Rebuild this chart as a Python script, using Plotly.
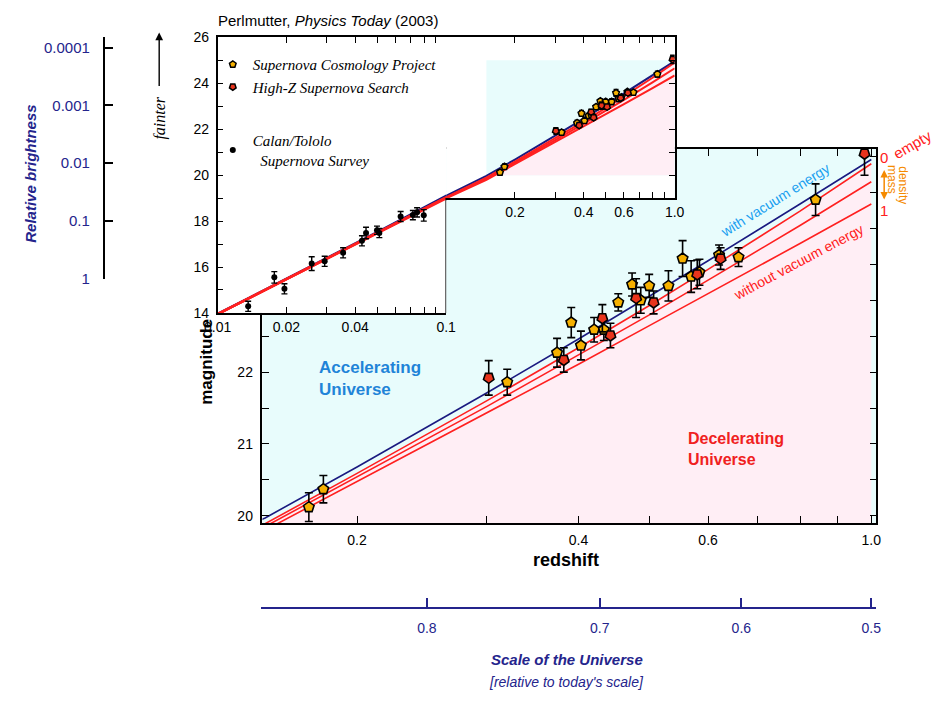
import plotly.graph_objects as go

# ---------------- data ----------------
MODEL_Z = [0.01, 0.02, 0.05, 0.1, 0.15, 0.2, 0.3, 0.4, 0.5, 0.6, 0.8, 1.0]
MAG_VACUUM = [13.96, 15.48, 17.52, 19.10, 19.97, 20.68, 21.71, 22.46, 23.06, 23.55, 24.34, 24.96]
MAG_EMPTY = [13.95, 15.47, 17.49, 19.04, 19.89, 20.59, 21.60, 22.34, 22.93, 23.43, 24.24, 24.90]
MAG_MID = [13.95, 15.47, 17.48, 19.02, 19.85, 20.54, 21.52, 22.24, 22.80, 23.28, 24.04, 24.65]
MAG_DENSE = [13.95, 15.46, 17.46, 18.99, 19.80, 20.48, 21.43, 22.11, 22.65, 23.09, 23.79, 24.34]

SCP_Z = [0.172, 0.180, 0.320, 0.374, 0.391, 0.403, 0.420, 0.433, 0.453, 0.473,
         0.486, 0.499, 0.530, 0.554, 0.569, 0.584, 0.621, 0.660, 0.840]
SCP_MAG = [20.12, 20.37, 21.86, 22.27, 22.69, 22.37, 22.59, 22.59, 22.97, 23.22,
           23.00, 23.20, 23.20, 23.58, 23.33, 23.39, 23.63, 23.60, 24.40]
SCP_ERR = [0.20, 0.19, 0.18, 0.20, 0.21, 0.20, 0.17, 0.15, 0.12, 0.16,
           0.18, 0.16, 0.21, 0.25, 0.22, 0.18, 0.14, 0.13, 0.22]

HZ_Z = [0.302, 0.382, 0.431, 0.442, 0.479, 0.506, 0.580, 0.624, 0.979]
HZ_MAG = [21.92, 22.17, 22.75, 22.51, 23.03, 22.97, 23.36, 23.58, 25.04]
HZ_ERR = [0.24, 0.17, 0.19, 0.17, 0.27, 0.16, 0.20, 0.15, 0.30]

CT_Z = [0.0136, 0.0177, 0.0196, 0.0258, 0.0294, 0.0354, 0.0428, 0.0446, 0.0498,
        0.0510, 0.0632, 0.0715, 0.0746, 0.0798, 0.103]
CT_MAG = [14.29, 15.55, 15.05, 16.15, 16.25, 16.62, 17.14, 17.48, 17.60,
          17.48, 18.20, 18.26, 18.38, 18.25, 19.10]
CT_ERR = [0.22, 0.25, 0.22, 0.30, 0.22, 0.22, 0.22, 0.25, 0.18,
          0.20, 0.22, 0.20, 0.20, 0.25, 0.20]

SHADE_Z = [0.15, 1.0]
SHADE_MAG = [20, 25]

MAIN_X_TICKS = [0.2, 0.3, 0.4, 0.5, 0.6, 0.7, 0.8, 0.9, 1.0]
MAIN_X_TEXT = ['0.2', '', '0.4', '', '0.6', '', '', '', '1.0']
MAIN_Y_TICKS = [20, 20.5, 21, 21.5, 22, 22.5, 23, 23.5, 24, 24.5, 25]
MAIN_Y_TEXT = ['20', '', '21', '', '22', '', '23', '', '24', '', '25']
INL_X_TICKS = [0.01, 0.02, 0.03, 0.04, 0.05, 0.06, 0.07, 0.08, 0.09, 0.1]
INL_X_TEXT = ['0.01', '0.02', '', '0.04', '', '', '', '', '', '0.1']
IN_Y_TICKS = [14, 15, 16, 17, 18, 19, 20, 21, 22, 23, 24, 25, 26]
IN_Y_TEXT = ['14', '', '16', '', '18', '', '20', '', '22', '', '24', '', '26']
INR_X_TICKS = [0.2, 0.3, 0.4, 0.5, 0.6, 0.7, 0.8, 0.9, 1.0]
INR_X_TEXT = ['0.2', '', '0.4', '', '0.6', '', '', '', '1.0']
BRIGHT_TICKS = [1, 0.1, 0.01, 0.001, 0.0001]
BRIGHT_TEXT = ['1', '0.1', '0.01', '0.001', '0.0001']
SCALE_TICK_Z = [0.149, 0.25, 0.4286, 0.6667, 1.0]
SCALE_TICK_TEXT = ['', '0.8', '0.7', '0.6', '0.5']

# ---------------- style ----------------
W, H = 939, 710
def fx(px): return px / W
def fy(px): return 1 - px / H

CYAN = '#E8FCFC'
PINK = '#FFEEF5'
NAVY = '#1A1A80'
REDL = '#FF2020'
ORANGE = '#F5B000'
REDM = '#E8341C'
DKBLUE = '#24248C'
SANS = 'Liberation Sans, Arial, sans-serif'
SERIF = 'Liberation Serif, Times New Roman, serif'

fig = go.Figure()

# ---- main panel ----
fig.add_trace(go.Scatter(x=MODEL_Z, y=MAG_EMPTY, mode='lines', line=dict(width=0),
                         fill='tozeroy', fillcolor=PINK, hoverinfo='skip', showlegend=False,
                         xaxis='x', yaxis='y'))
for ys, col in [(MAG_VACUUM, NAVY), (MAG_EMPTY, REDL), (MAG_MID, REDL), (MAG_DENSE, REDL)]:
    fig.add_trace(go.Scatter(x=MODEL_Z, y=ys, mode='lines', line=dict(color=col, width=1.6),
                             hoverinfo='skip', showlegend=False, xaxis='x', yaxis='y'))
eb_main = dict(type='data', thickness=1.6, width=4, color='black')
fig.add_trace(go.Scatter(x=SCP_Z, y=SCP_MAG, mode='markers',
                         error_y=dict(array=SCP_ERR, **eb_main),
                         marker=dict(symbol='pentagon', size=11, color=ORANGE,
                                     line=dict(color='black', width=1.6)),
                         showlegend=False, xaxis='x', yaxis='y'))
fig.add_trace(go.Scatter(x=HZ_Z, y=HZ_MAG, mode='markers',
                         error_y=dict(array=HZ_ERR, **eb_main),
                         marker=dict(symbol='pentagon', angle=180, size=11, color=REDM,
                                     line=dict(color='black', width=1.6)),
                         showlegend=False, xaxis='x', yaxis='y'))

# ---- inset, left part (nearby supernovae): model lines ----
for ys, col in [(MAG_VACUUM, NAVY), (MAG_EMPTY, REDL), (MAG_MID, REDL), (MAG_DENSE, REDL)]:
    fig.add_trace(go.Scatter(x=MODEL_Z, y=ys, mode='lines', line=dict(color=col, width=2.4),
                             hoverinfo='skip', showlegend=False, xaxis='x2', yaxis='y2'))

# ---- inset, right part ----
shade_z = [z for z in MODEL_Z if SHADE_Z[0] <= z <= SHADE_Z[1]]
shade_empty = [m for z, m in zip(MODEL_Z, MAG_EMPTY) if SHADE_Z[0] <= z <= SHADE_Z[1]]
fig.add_trace(go.Scatter(x=shade_z, y=[SHADE_MAG[0]] * len(shade_z), mode='lines',
                         line=dict(width=0), hoverinfo='skip', showlegend=False,
                         xaxis='x3', yaxis='y3'))
fig.add_trace(go.Scatter(x=shade_z, y=shade_empty, mode='lines', line=dict(width=0),
                         fill='tonexty', fillcolor=PINK, hoverinfo='skip', showlegend=False,
                         xaxis='x3', yaxis='y3'))
for ys, col in [(MAG_VACUUM, NAVY), (MAG_EMPTY, REDL), (MAG_MID, REDL), (MAG_DENSE, REDL)]:
    fig.add_trace(go.Scatter(x=MODEL_Z, y=ys, mode='lines', line=dict(color=col, width=2.0),
                             hoverinfo='skip', showlegend=False, xaxis='x3', yaxis='y3'))
eb_in = dict(type='data', thickness=1.3, width=2.5, color='black')
fig.add_trace(go.Scatter(x=SCP_Z, y=SCP_MAG, mode='markers', name='Supernova Cosmology Project',
                         legendgroup='g1',
                         error_y=dict(array=[e * 0.6 for e in SCP_ERR], **eb_in),
                         marker=dict(symbol='pentagon', size=7, color=ORANGE,
                                     line=dict(color='black', width=1.5)),
                         xaxis='x3', yaxis='y3'))
fig.add_trace(go.Scatter(x=HZ_Z, y=HZ_MAG, mode='markers', name='High-Z Supernova Search',
                         legendgroup='g1',
                         error_y=dict(array=[e * 0.6 for e in HZ_ERR], **eb_in),
                         marker=dict(symbol='pentagon', angle=180, size=7, color=REDM,
                                     line=dict(color='black', width=1.5)),
                         xaxis='x3', yaxis='y3'))

# ---- inset, left part: Calan/Tololo data ----
fig.add_trace(go.Scatter(x=CT_Z, y=CT_MAG, mode='markers', name='Calan/Tololo<br>  Supernova Survey',
                         legendgroup='g2',
                         error_y=dict(type='data', array=CT_ERR, thickness=1.4, width=3, color='black'),
                         marker=dict(symbol='circle', size=6, color='black'),
                         xaxis='x2', yaxis='y2'))

# ---- anchors for the extra scales ----
fig.add_trace(go.Scatter(x=[0], y=[1], mode='markers', marker=dict(opacity=0),
                         hoverinfo='skip', showlegend=False, xaxis='x4', yaxis='y4'))
fig.add_trace(go.Scatter(x=[0.5], y=[0.5], mode='markers', marker=dict(opacity=0),
                         hoverinfo='skip', showlegend=False, xaxis='x5', yaxis='y5'))

axcommon = dict(showgrid=False, zeroline=False, showline=True, linecolor='black', linewidth=1.5,
                ticks='inside', tickcolor='black', tickwidth=1.4,
                tickfont=dict(family=SANS, size=14, color='black'))

fig.update_layout(
    width=W, height=H, margin=dict(l=0, r=0, t=0, b=0),
    paper_bgcolor='white', plot_bgcolor='white',
    xaxis=dict(type='log', range=[-0.8275, 0.0069], domain=[fx(255), fx(885)], anchor='y',
               mirror='ticks', ticklen=7, tickvals=MAIN_X_TICKS, ticktext=MAIN_X_TEXT,
               ticklabelstandoff=3, **axcommon),
    yaxis=dict(range=[19.898, 25.109], domain=[fy(527), fy(144)], anchor='x',
               mirror='ticks', ticklen=7, tickvals=MAIN_Y_TICKS, ticktext=MAIN_Y_TEXT,
               ticklabelstandoff=5, **axcommon),
    xaxis2=dict(type='log', range=[-2, -1], domain=[fx(209), fx(443.5)], anchor='y2',
                mirror='ticks', ticklen=6, tickvals=INL_X_TICKS, ticktext=INL_X_TEXT,
                ticklabelstandoff=0, **axcommon),
    yaxis2=dict(range=[14, 26], domain=[fy(312), fy(30)], anchor='x2',
                ticklen=6, tickvals=IN_Y_TICKS, ticktext=IN_Y_TEXT, ticklabelstandoff=4,
                **axcommon),
    xaxis3=dict(type='log', range=[-1, 0], domain=[fx(443.5), fx(678)], anchor='y3',
                mirror='ticks', ticklen=6, tickvals=INR_X_TICKS, ticktext=INR_X_TEXT,
                ticklabelstandoff=0, **axcommon),
    yaxis3=dict(range=[19, 26], domain=[fy(194.5), fy(30)], anchor='x3', side='right',
                ticklen=6, tickvals=IN_Y_TICKS, showticklabels=False, **axcommon),
    xaxis4=dict(domain=[fx(93), fx(94)], anchor='y4', visible=False),
    yaxis4=dict(type='log', range=[0.005, -4.181], domain=[fy(277), fy(30)], anchor='x4',
                showgrid=False, zeroline=False, showline=True, linecolor='black', linewidth=1.5,
                ticks='inside', ticklen=9, tickwidth=1.5, tickcolor='black',
                tickvals=BRIGHT_TICKS, ticktext=BRIGHT_TEXT, ticklabelstandoff=10,
                tickfont=dict(family=SANS, size=15, color=DKBLUE)),
    xaxis5=dict(type='log', range=[-0.8275, 0.0069], domain=[fx(253), fx(885)], anchor='y5',
                showgrid=False, zeroline=False, showline=True, linecolor=DKBLUE, linewidth=1.5,
                ticks='inside', ticklen=9, tickwidth=1.5, tickcolor=DKBLUE,
                tickvals=SCALE_TICK_Z, ticktext=SCALE_TICK_TEXT, ticklabelstandoff=7,
                tickfont=dict(family=SANS, size=14, color=DKBLUE)),
    yaxis5=dict(range=[0, 1], domain=[fy(613), fy(612)], anchor='x5', visible=False),
    legend=dict(x=fx(204), y=fy(41), xanchor='left', yanchor='top', bgcolor='rgba(0,0,0,0)',
                traceorder='grouped', tracegroupgap=31,
                font=dict(family=SERIF, size=15, color='black', style='italic')),
    showlegend=True,
)

fig.add_shape(type='rect', xref='x domain', yref='y domain', x0=0, x1=1, y0=0, y1=1,
              layer='below', fillcolor=CYAN, line=dict(width=0))
fig.add_shape(type='rect', xref='x3', yref='y3', x0=SHADE_Z[0], x1=SHADE_Z[1],
              y0=SHADE_MAG[0], y1=SHADE_MAG[1], layer='below', fillcolor=CYAN, line=dict(width=0))
fig.add_shape(type='line', xref='x2', yref='y2', x0=0.1, x1=0.1, y0=14, y1=19,
              line=dict(color='black', width=1.5))

ann = []
def A(text, x, y, size=14, color='black', angle=0, family=SANS, xanchor='center',
      yanchor='middle', align='center'):
    ann.append(dict(text=text, x=fx(x), y=fy(y), xref='paper', yref='paper', showarrow=False,
                    textangle=angle, xanchor=xanchor, yanchor=yanchor, align=align,
                    font=dict(family=family, size=size, color=color)))

A('Perlmutter, <i>Physics Today</i> (2003)', 207, 13, size=15, xanchor='left')
A('<b><i>Relative brightness</i></b>', 17, 170, size=15, color=DKBLUE, angle=-90)
A('<i>fainter</i>', 150, 113, size=16, family=SERIF, angle=-90)
A('<b>magnitude</b>', 198, 362, size=17, angle=-90)
A('<b>redshift</b>', 566, 565, size=18)
A('<b>Accelerating<br>Universe</b>', 311, 379, size=17, color='#1F84D8', xanchor='left', align='left')
A('<b>Decelerating<br>Universe</b>', 690, 451, size=16, color='#F02020', xanchor='left', align='left')
A('with vacuum energy', 781, 196, size=14, color='#1AA0F0', angle=-32)
A('without vacuum energy', 805, 260, size=14, color='#FF2020', angle=-28)
A('0', 893, 153, size=15, color='#FF2020')
A('empty', 922, 140, size=15, color='#FF2020', angle=-30)
A('1', 893, 207, size=15, color='#FF2020')
A('mass', 901, 176, size=12, color='#F58A00', angle=90)
A('density', 912, 181, size=12, color='#F58A00', angle=90)
A('<b><i>Scale of the Universe</i></b>', 567, 667, size=15, color=DKBLUE)
A('<i>[relative to today\'s scale]</i>', 567, 690, size=14, color=DKBLUE)

ann.append(dict(text='', x=fx(149), y=fy(25), xref='paper', yref='paper', showarrow=True,
                ax=0, ay=55, arrowhead=2, arrowsize=1.1, arrowwidth=1.4, arrowcolor='black'))
ann.append(dict(text='', x=fx(893), y=fy(196), xref='paper', yref='paper', showarrow=True,
                ax=0, ay=-31, arrowhead=2, arrowside='end+start', arrowsize=1, arrowwidth=1.5,
                arrowcolor='#F58A00'))
fig.update_layout(annotations=ann)

fig.write_html('out.html')
